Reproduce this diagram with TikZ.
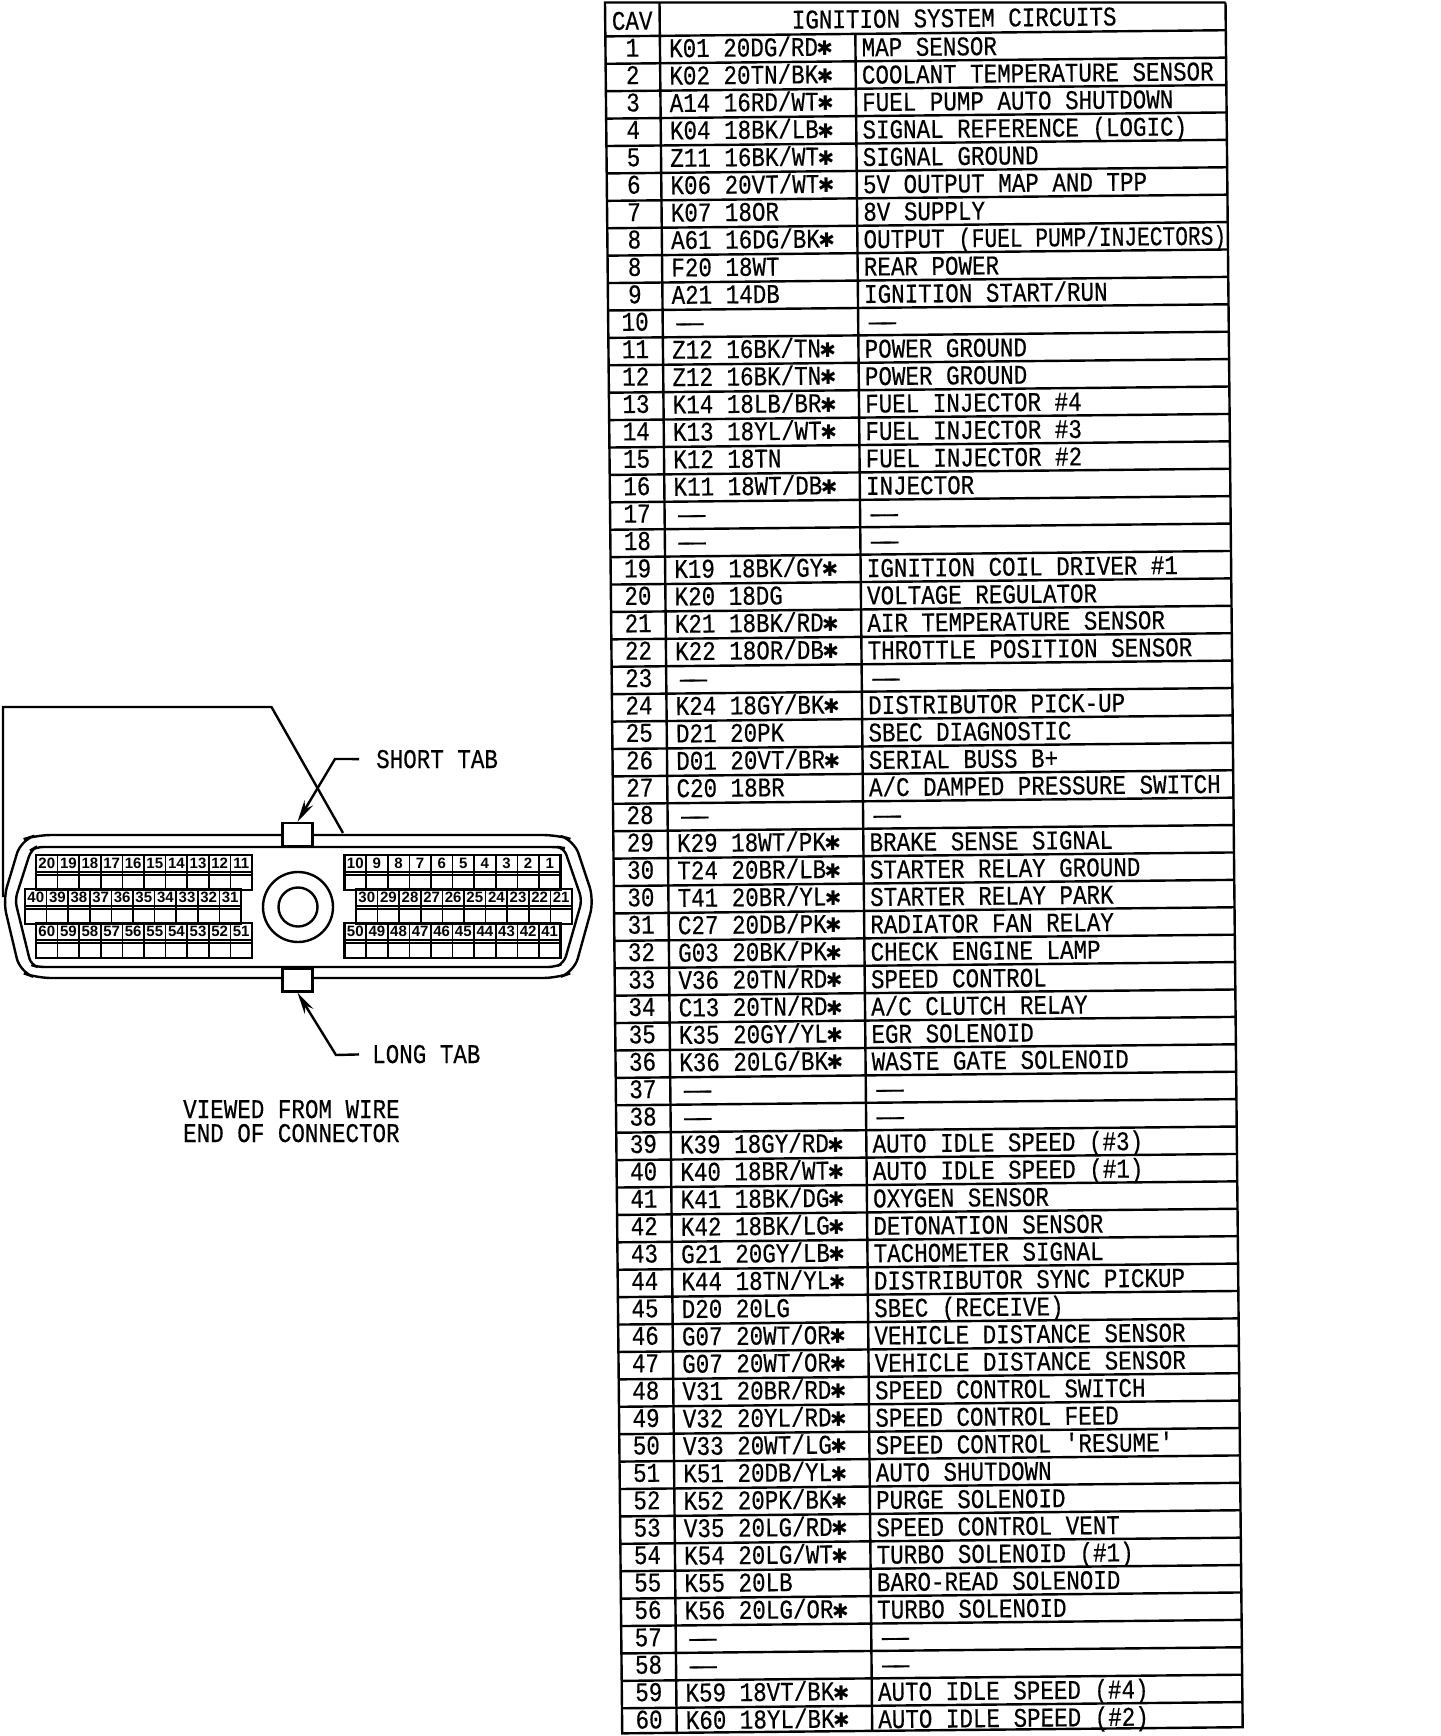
\documentclass[tikz,border=0pt]{standalone}
\usepackage{fontspec}
\usetikzlibrary{arrows.meta}
\newfontfamily\cadfont[FakeStretch=0.835,FakeBold=0.4]{Liberation Mono}
\newfontfamily\pinfont{Liberation Sans}
\newfontfamily\starfont{DejaVu Sans}
\newcommand{\wst}{\makebox[13.6pt]{\fontsize{20}{20}\selectfont\starfont ✱}}
\newcommand{\nodash}{——}
\tikzset{
	rule/.style = {line width = 2.4pt},
	cadtext/.style = {inner sep = 0pt, font = \fontsize{27}{27}\selectfont\cadfont},
	pinnum/.style = {inner sep = 0pt, font = \fontsize{15}{15}\selectfont\pinfont\bfseries},
	tabbox/.style = {draw, rule, fill = white, minimum width = 30pt, minimum height = 23pt, inner sep = 0pt},
	leader/.style = {rule, -{Stealth[length = 22pt, width = 10pt]}}
}
% one block of ten cavities: x, y, first number
\newcommand{\pinblock}[3]{
	\draw[rule] (#1, #2) rectangle (#1 + 216, #2 + 35);
	\draw[line width = 1.6pt] (#1, #2 + 17) -- (#1 + 216, #2 + 17);
	\draw[line width = 1.6pt] (#1, #2 + 20) -- (#1 + 216, #2 + 20);
	\foreach \c in {0,...,9}{
		\pgfmathtruncatemacro{\n}{#3 - \c}
		\ifnum\c>0 \draw[line width = 1.6pt] (#1 + 21.6*\c, #2) -- (#1 + 21.6*\c, #2 + 35); \fi
		\node[pinnum] (pin\n) at (#1 + 10.8 + 21.6*\c, #2 + 8.5) {\n};
	}
}
\begin{document}
\begin{tikzpicture}[x = 1pt, y = -1pt]
	\fill[white] (0, 0) rectangle (1440, 1736);
	\useasboundingbox (0, 0) rectangle (1440, 1736);
	% connector
	\draw[rule] (3, 897) -- (3, 707) -- (271.5, 707) -- (343, 833);
	\draw[rule, rounded corners = 14pt] (37, 835) -- (21, 840) -- (3, 900) -- (20, 972) -- (37, 978) -- (557, 978) -- (574, 972) -- (594, 900) -- (574, 840) -- (557, 835) -- cycle;
	\draw[rule, rounded corners = 7pt] (36, 847) -- (31, 850) -- (15, 900) -- (31, 965) -- (38, 967) -- (555, 967) -- (564, 963) -- (582, 900) -- (564, 848) -- (558, 847) -- cycle;
	\node[tabbox] (toptab) at (297.5, 834.5) {};
	\node[tabbox] (bottomtab) at (297.5, 980) {};
	\draw[rule] (298, 907) circle (35);
	\draw[rule] (298, 907) circle (19.5);
	\pinblock{36}{855}{20}
	\pinblock{25}{889}{40}
	\pinblock{36}{923}{60}
	\pinblock{344.5}{855}{10}
	\pinblock{356}{889}{30}
	\pinblock{344.5}{923}{50}
	\node[cadtext, anchor = base west] (shorttab) at (376, 768) {SHORT TAB};
	\node[cadtext, anchor = base west] (longtab) at (372, 1063) {LONG TAB};
	\coordinate (shortbend) at (335, 759);
	\coordinate (longbend) at (336, 1055);
	\draw[leader, shorten < = 17pt] (shorttab.west) -- (shortbend) -- (toptab.north);
	\draw[leader, shorten < = 13pt] (longtab.west) -- (longbend) -- (bottomtab.south);
	\node[cadtext, anchor = base west] (viewed) at (183, 1118) {VIEWED FROM WIRE};
	\node[cadtext, anchor = base west] (wireend) at (183, 1142) {END OF CONNECTOR};
	% circuit table
	\begin{scope}[shift = {(605, 2.5)}, rotate = 0.57, transform shape]
		\draw[rule] (620.5, 6.2) -- (0, 0) -- (0, 1731) -- (620.5, 1731) -- (620.5, 6.2);
		\draw[rule] (54.5, 0.5) -- (54.5, 1731);
		\draw[rule] (250, 33.9) -- (250, 1731);
		\draw[rule] (0, 33.9) -- (620.5, 33.9);
		\node[cadtext, anchor = base] (cavhead) at (27, 27.5) {CAV};
		\node[cadtext, anchor = base] (tablehead) at (349, 28) {IGNITION SYSTEM CIRCUITS};
		\foreach \cav/\wire/\circuit [count = \r from 0] in {
			1/{K01 20DG/RD\wst}/{MAP SENSOR},
			2/{K02 20TN/BK\wst}/{COOLANT TEMPERATURE SENSOR},
			3/{A14 16RD/WT\wst}/{FUEL PUMP AUTO SHUTDOWN},
			4/{K04 18BK/LB\wst}/{SIGNAL REFERENCE (LOGIC)},
			5/{Z11 16BK/WT\wst}/{SIGNAL GROUND},
			6/{K06 20VT/WT\wst}/{5V OUTPUT MAP AND TPP},
			7/{K07 18OR}/{8V SUPPLY},
			8/{A61 16DG/BK\wst}/{OUTPUT (\scalebox{0.94}[1]{FUEL PUMP/INJECTORS)}},
			8/{F20 18WT}/{REAR POWER},
			9/{A21 14DB}/{IGNITION START/RUN},
			10/{\,\nodash}/{\,\nodash},
			11/{Z12 16BK/TN\wst}/{POWER GROUND},
			12/{Z12 16BK/TN\wst}/{POWER GROUND},
			13/{K14 18LB/BR\wst}/{FUEL INJECTOR \#4},
			14/{K13 18YL/WT\wst}/{FUEL INJECTOR \#3},
			15/{K12 18TN}/{FUEL INJECTOR \#2},
			16/{K11 18WT/DB\wst}/{INJECTOR},
			17/{\,\nodash}/{\,\nodash},
			18/{\,\nodash}/{\,\nodash},
			19/{K19 18BK/GY\wst}/{IGNITION COIL DRIVER \#1},
			20/{K20 18DG}/{VOLTAGE REGULATOR},
			21/{K21 18BK/RD\wst}/{AIR TEMPERATURE SENSOR},
			22/{K22 18OR/DB\wst}/{THROTTLE POSITION SENSOR},
			23/{\,\nodash}/{\,\nodash},
			24/{K24 18GY/BK\wst}/{DISTRIBUTOR PICK-UP},
			25/{D21 20PK}/{SBEC DIAGNOSTIC},
			26/{D01 20VT/BR\wst}/{SERIAL BUSS B+},
			27/{C20 18BR}/{A/C DAMPED PRESSURE SWITCH},
			28/{\,\nodash}/{\,\nodash},
			29/{K29 18WT/PK\wst}/{BRAKE SENSE SIGNAL},
			30/{T24 20BR/LB\wst}/{STARTER RELAY GROUND},
			30/{T41 20BR/YL\wst}/{STARTER RELAY PARK},
			31/{C27 20DB/PK\wst}/{RADIATOR FAN RELAY},
			32/{G03 20BK/PK\wst}/{CHECK ENGINE LAMP},
			33/{V36 20TN/RD\wst}/{SPEED CONTROL},
			34/{C13 20TN/RD\wst}/{A/C CLUTCH RELAY},
			35/{K35 20GY/YL\wst}/{EGR SOLENOID},
			36/{K36 20LG/BK\wst}/{WASTE GATE SOLENOID},
			37/{\,\nodash}/{\,\nodash},
			38/{\,\nodash}/{\,\nodash},
			39/{K39 18GY/RD\wst}/{AUTO IDLE SPEED (\#3)},
			40/{K40 18BR/WT\wst}/{AUTO IDLE SPEED (\#1)},
			41/{K41 18BK/DG\wst}/{OXYGEN SENSOR},
			42/{K42 18BK/LG\wst}/{DETONATION SENSOR},
			43/{G21 20GY/LB\wst}/{TACHOMETER SIGNAL},
			44/{K44 18TN/YL\wst}/{DISTRIBUTOR SYNC PICKUP},
			45/{D20 20LG}/{SBEC (RECEIVE)},
			46/{G07 20WT/OR\wst}/{VEHICLE DISTANCE SENSOR},
			47/{G07 20WT/OR\wst}/{VEHICLE DISTANCE SENSOR},
			48/{V31 20BR/RD\wst}/{SPEED CONTROL SWITCH},
			49/{V32 20YL/RD\wst}/{SPEED CONTROL FEED},
			50/{V33 20WT/LG\wst}/{SPEED CONTROL 'RESUME'},
			51/{K51 20DB/YL\wst}/{AUTO SHUTDOWN},
			52/{K52 20PK/BK\wst}/{PURGE SOLENOID},
			53/{V35 20LG/RD\wst}/{SPEED CONTROL VENT},
			54/{K54 20LG/WT\wst}/{TURBO SOLENOID (\#1)},
			55/{K55 20LB}/{BARO-READ SOLENOID},
			56/{K56 20LG/OR\wst}/{TURBO SOLENOID},
			57/{\,\nodash}/{\,\nodash},
			58/{\,\nodash}/{\,\nodash},
			59/{K59 18VT/BK\wst}/{AUTO IDLE SPEED (\#4)},
			60/{K60 18YL/BK\wst}/{AUTO IDLE SPEED (\#2)}}{
			\pgfmathsetmacro{\rowtop}{33.9 + 27.41*\r}
			\pgfmathsetmacro{\cavbase}{\rowtop + 20.5}
			\pgfmathsetmacro{\wirebase}{\rowtop + 21.5}
			\pgfmathsetmacro{\rowbase}{\rowtop + 22.5}
			\ifnum\r>0 \draw[rule] (0, \rowtop) -- (620.5, \rowtop); \fi
			\node[cadtext, anchor = base] (cav\r) at (27, \cavbase) {\cav};
			\node[cadtext, anchor = base west] (wire\r) at (63.5, \wirebase) {\wire};
			\node[cadtext, anchor = base west] (circuit\r) at (256, \rowbase) {\circuit};
		}
	\end{scope}
\end{tikzpicture}
\end{document}
